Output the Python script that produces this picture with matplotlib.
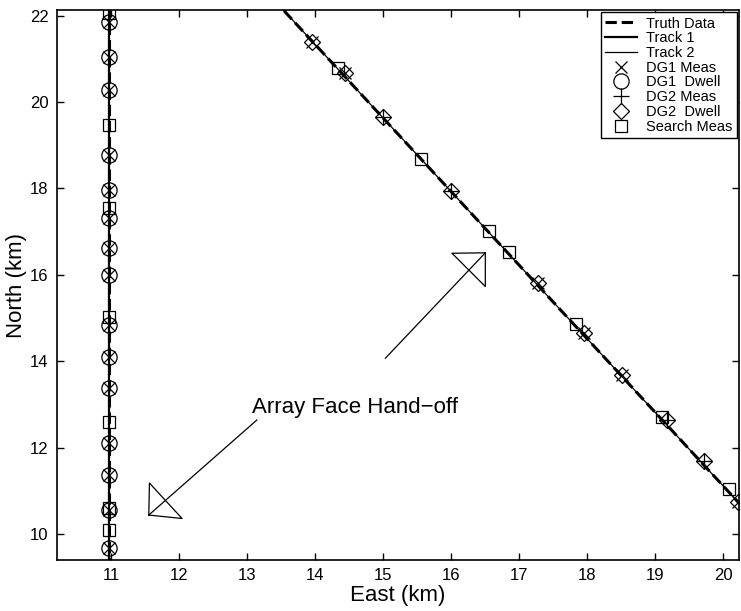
import matplotlib
matplotlib.use("Agg")
import matplotlib.pyplot as plt
import numpy as np

plt.rcParams['font.family'] = ['Liberation Sans', 'DejaVu Sans']

# ---- data (km) ----
# vertical target (array face 1)
v_east = 10.97
v_truth_north = [9.2, 22.5]

# diagonal target
d_truth_east = [13.3, 20.5]
d_truth_north = [22.52, 10.26]

track1_east = [10.97, 10.97]
track1_north = [9.2, 22.5]
track2_east = [13.3, 20.5]
track2_north = [22.52, 10.26]

# DG1 dwells on vertical track (circles) with DG1 measurements (x)
dg1_dwell_north = [21.86, 21.05, 20.28, 18.78, 17.97, 17.32, 16.63, 16.0,
                   14.84, 14.10, 13.38, 12.11, 11.37, 10.56, 9.68]
dg1_meas_north = dg1_dwell_north

# DG2 dwells on diagonal track (diamonds)
dg2_dwell_east = [13.95, 14.44, 15.0, 16.0, 17.27, 17.95, 18.51, 19.17, 19.71, 20.22]
dg2_dwell_north = [21.40, 20.67, 19.66, 17.95, 15.81, 14.65, 13.68, 12.64, 11.68, 10.74]
# measurements on diagonal: x and +
dg1_meas_d_east = [13.95, 14.44, 17.27, 17.95, 18.51, 20.22]
dg1_meas_d_north = [21.40, 20.67, 15.81, 14.65, 13.68, 10.74]
dg2_meas_east = [15.0, 16.0, 19.17, 19.71]
dg2_meas_north = [19.66, 17.95, 12.64, 11.68]

# search measurements (squares)
search_v_north = [22.06, 19.47, 17.55, 15.03, 12.59, 10.6, 10.09]
search_d_east = [14.33, 15.55, 16.55, 16.85, 17.83, 19.1, 20.09]
search_d_north = [20.78, 18.68, 17.02, 16.54, 14.86, 12.72, 11.05]

fig = plt.figure(figsize=(7.41, 6.11), dpi=100)
ax = fig.add_axes([0.0769, 0.0835, 0.9203, 0.9001])

# lines
ax.plot([v_east, v_east], v_truth_north, '--', color='k', lw=2.2, label='Truth Data')
ax.plot(d_truth_east, d_truth_north, '--', color='k', lw=2.2)
ax.plot(track1_east, track1_north, '-', color='k', lw=1.6, label='Track 1')
ax.plot(track2_east, track2_north, '-', color='k', lw=0.9, label='Track 2')

mk = dict(linestyle='none', color='k', mfc='none', mew=0.9)
ax.plot([v_east] * len(dg1_meas_north), dg1_meas_north, marker='x', ms=8, label='DG1 Meas', **mk)
ax.plot(dg1_meas_d_east, dg1_meas_d_north, marker='x', ms=8, **mk)
ax.plot([v_east] * len(dg1_dwell_north), dg1_dwell_north, marker='o', ms=11, label='DG1  Dwell', **mk)
ax.plot(dg2_meas_east, dg2_meas_north, marker='+', ms=11, label='DG2 Meas', **mk)
ax.plot(dg2_dwell_east, dg2_dwell_north, marker='D', ms=8, label='DG2  Dwell', **mk)
ax.plot([v_east] * len(search_v_north), search_v_north, marker='s', ms=9, label='Search Meas', **mk)
ax.plot(search_d_east, search_d_north, marker='s', ms=9, **mk)

# annotation arrows (open right-triangle heads, shaft through to tip)
def hand_arrow(tail, tip, v1, v2):
    ax.plot([tail[0], tip[0]], [tail[1], tip[1]], color='k', lw=0.9)
    ax.plot([tip[0], v1[0], v2[0], tip[0]], [tip[1], v1[1], v2[1], tip[1]], color='k', lw=0.9)

hand_arrow((15.03, 14.07), (16.50, 16.51), (16.01, 16.50), (16.50, 15.73))
hand_arrow((13.14, 12.64), (11.55, 10.44), (11.56, 11.18), (12.04, 10.36))
ax.text(14.59, 12.94, 'Array Face Hand\u2212off', fontsize=16, ha='center', va='center')

ax.set_xlim(10.2, 20.23)
ax.set_ylim(9.4, 22.13)
ax.set_xticks(range(11, 21))
ax.set_yticks(range(10, 23, 2))
ax.tick_params(direction='in', top=True, right=True, length=5, width=1, labelsize=12, pad=6)
for s in ax.spines.values():
    s.set_linewidth(1.2)
ax.set_xlabel('East (km)', fontsize=16, labelpad=1)
ax.set_ylabel('North (km)', fontsize=16, labelpad=2)

leg = ax.legend(loc='upper right', fontsize=10.5, fancybox=False, edgecolor='k',
                framealpha=1, borderaxespad=0.15, labelspacing=0.05,
                handlelength=2.2, handletextpad=0.6, borderpad=0.3)
leg.get_frame().set_linewidth(1.0)

fig.savefig('out.png', dpi=100)
